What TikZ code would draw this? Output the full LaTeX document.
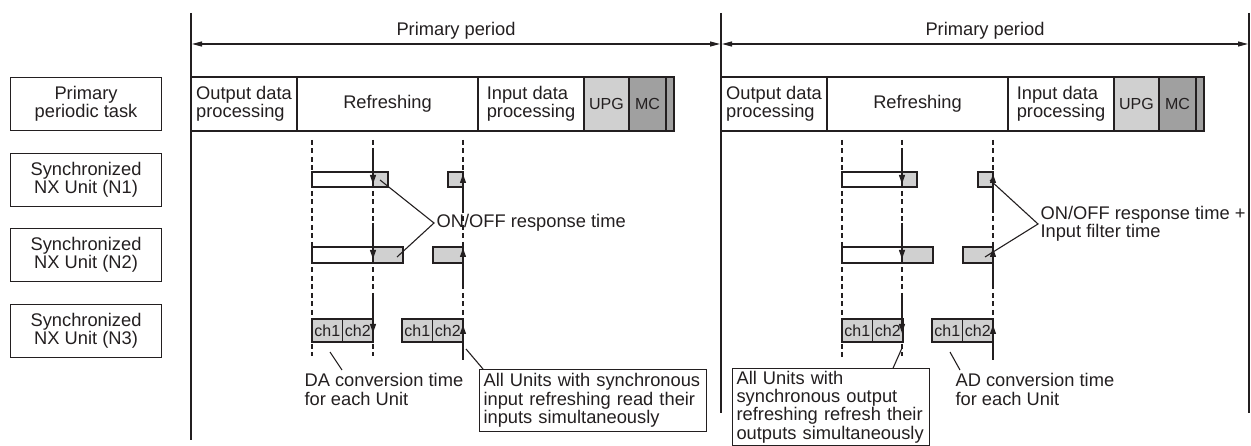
\documentclass[tikz,border=0pt]{standalone}
\usepackage{fontspec}
\setmainfont{Liberation Sans}
\usetikzlibrary{arrows.meta, positioning}

\definecolor{ink}{HTML}{231F20}
\definecolor{lightbar}{HTML}{D0D0D0}
\definecolor{darkbar}{HTML}{A0A0A0}

\newcommand{\bigtext}{\fontsize{18.3}{18.3}\selectfont}
\newcommand{\smalltext}{\fontsize{16}{16}\selectfont}

\begin{document}
\begin{tikzpicture}[x=1pt, y=-1pt, line width=1.1pt, color=ink, font=\bigtext,
    label box/.style={draw, minimum width=151pt, minimum height=53pt,
      inner sep=0pt, align=center},
    task box/.style={draw, minimum height=54pt, inner sep=0pt, outer sep=0pt,
      align=left},
    ch box/.style={draw, fill=lightbar, minimum width=30.5pt, minimum height=23pt,
      inner sep=0pt, outer sep=0pt, font=\smalltext},
    bar/.style={draw, fill=lightbar},
    sync line/.style={dash pattern=on 5pt off 3.5pt},
    sync arrow/.style={-{Triangle[length=9pt, width=6pt]}},
    period arrow/.style={{Triangle[length=10pt, width=5pt]}-{Triangle[length=10pt, width=5pt]}},
    note/.style={align=left, inner xsep=4pt, inner ysep=4pt}]
  \useasboundingbox (0,0) rectangle (1251,446);

  % row labels
  \node[label box, anchor=north west] (task) at (10,77) {Primary\\periodic task};
  \node[label box, anchor=north west] (n1) at (10,153) {Synchronized\\NX Unit (N1)};
  \node[label box, anchor=north west] (n2) at (10,228) {Synchronized\\NX Unit (N2)};
  \node[label box, anchor=north west] (n3) at (10,304) {Synchronized\\NX Unit (N3)};

  % period borders
  \coordinate (p0) at (191,13);
  \coordinate (p1) at (721,13);
  \coordinate (p2) at (1249,13);
  \draw (p0) -- (191,440);
  \draw (p1) -- (721,413);
  \draw (p2) -- (1249,413);

  \coordinate (a0) at (192,44);
  \coordinate (a1) at (720,44);
  \coordinate (b0) at (722,44);
  \coordinate (b1) at (1248,44);
  \draw[period arrow] (a0) -- (a1);
  \draw[period arrow] (b0) -- (b1);
  \node (per1) at (456,31) {Primary period};
  \node (per2) at (985,31) {Primary period};

  % primary periodic task, first period
  \node[task box, minimum width=106pt, anchor=north west] (out1) at (191,77) {Output data\\processing};
  \node[task box, minimum width=181pt, right=0pt of out1] (ref1) {Refreshing};
  \node[task box, minimum width=106pt, right=0pt of ref1] (in1) {Input data\\processing};
  \node[task box, minimum width=45pt, fill=lightbar, font=\smalltext, right=0pt of in1] (upg1) {UPG};
  \node[task box, minimum width=37pt, fill=darkbar, font=\smalltext, right=0pt of upg1] (mc1) {MC};
  \node[task box, minimum width=8pt, fill=darkbar, right=0pt of mc1] (rest1) {};

  % primary periodic task, second period
  \node[task box, minimum width=106pt, anchor=north west] (out2) at (721,77) {Output data\\processing};
  \node[task box, minimum width=181pt, right=0pt of out2] (ref2) {Refreshing};
  \node[task box, minimum width=106pt, right=0pt of ref2] (in2) {Input data\\processing};
  \node[task box, minimum width=45pt, fill=lightbar, font=\smalltext, right=0pt of in2] (upg2) {UPG};
  \node[task box, minimum width=37pt, fill=darkbar, font=\smalltext, right=0pt of upg2] (mc2) {MC};
  \node[task box, minimum width=8pt, fill=darkbar, right=0pt of mc2] (rest2) {};

  % sync timing lines
  \draw[sync line] (312,140) -- (312,356);
  \draw[sync line] (373,140) -- (373,356);
  \draw[sync line] (463,140) -- (463,360);
  \draw[sync line] (842,140) -- (842,360);
  \draw[sync line] (902,140) -- (902,356);
  \draw[sync line] (993,140) -- (993,360);

  % N1 and N2, first period
  \draw[fill=white] (312,172) rectangle (373,187);
  \draw[bar] (373,172) rectangle (388,187);
  \draw[bar] (448,172) rectangle (463,187);
  \draw[fill=white] (312,247) rectangle (373,263);
  \draw[bar] (373,247) rectangle (403,263);
  \draw[bar] (433,247) rectangle (463,263);

  % N1 and N2, second period
  \draw[fill=white] (842,172) rectangle (902,187);
  \draw[bar] (902,172) rectangle (917,187);
  \draw[bar] (978,172) rectangle (993,187);
  \draw[fill=white] (842,247) rectangle (902,263);
  \draw[bar] (902,247) rectangle (933,263);
  \draw[bar] (963,247) rectangle (993,263);

  % N3 channels
  \node[ch box, anchor=north west] (cha1) at (312,319) {ch1};
  \node[ch box, right=0pt of cha1] (chb1) {ch2};
  \node[ch box, anchor=north west] (chc1) at (402,319) {ch1};
  \node[ch box, right=0pt of chc1] (chd1) {ch2};
  \node[ch box, anchor=north west] (cha2) at (842,319) {ch1};
  \node[ch box, right=0pt of cha2] (chb2) {ch2};
  \node[ch box, anchor=north west] (chc2) at (932,319) {ch1};
  \node[ch box, right=0pt of chc2] (chd2) {ch2};

  % refresh arrows
  \draw[sync arrow] (373,148) -- (373,184);
  \draw[sync arrow] (373,223) -- (373,259);
  \draw[sync arrow] (373,298) -- (373,333);
  \draw[sync arrow] (463,210) -- (463,174);
  \draw[sync arrow] (463,285) -- (463,248);
  \draw[sync arrow] (463,360) -- (463,325);
  \draw[sync arrow] (902,148) -- (902,184);
  \draw[sync arrow] (902,223) -- (902,259);
  \draw[sync arrow] (902,298) -- (902,333);
  \draw[sync arrow] (993,210) -- (993,174);
  \draw[sync arrow] (993,285) -- (993,248);
  \draw[sync arrow] (993,360) -- (993,325);

  % response time callouts
  \coordinate (on1) at (434,223);
  \draw (380,180) -- (on1) -- (397,257);
  \node[anchor=west, inner sep=2pt] (resp1) at (on1) {ON/OFF response time};
  \coordinate (on2) at (1038,224);
  \draw (990,180) -- (on2) -- (985,257);
  \node[anchor=west, inner sep=2pt, align=left] (resp2) at (on2) {ON/OFF response time +\\Input filter time};

  % bottom notes
  \node[note, anchor=north west] (da) at (300,369) {DA conversion time\\for each Unit};
  \draw (330,352) -- (342,370);
  \node[note, draw, fill=white, text width=219pt, anchor=north west] (inbox) at (479,369)
    {All Units with synchronous\\input refreshing read their\\inputs simultaneously};
  \draw (466,349) -- ([xshift=4pt]inbox.north west);
  \node[note, draw, fill=white, text width=189pt, inner ysep=2.5pt, anchor=north west] (outbox) at (732,368)
    {All Units with\\synchronous output\\refreshing refresh their\\outputs simultaneously};
  \draw (902,348) -- ([xshift=-37pt]outbox.north east);
  \node[note, anchor=north west] (ad) at (951,369) {AD conversion time\\for each Unit};
  \draw (950,352) -- (960,370);
\end{tikzpicture}
\end{document}
